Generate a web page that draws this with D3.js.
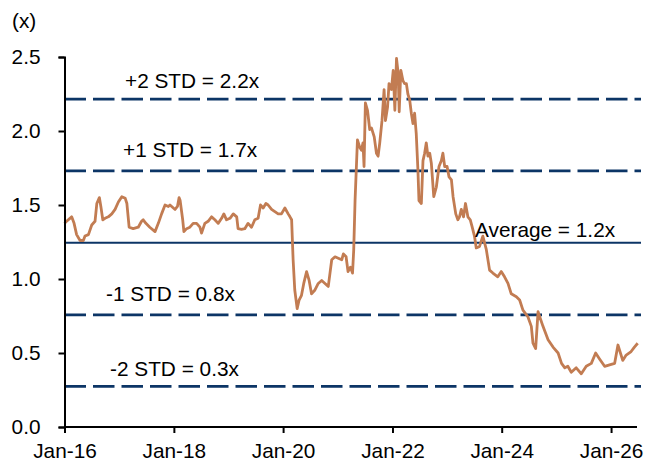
<!DOCTYPE html>
<html>
<head>
<meta charset="utf-8">
<script src="https://cdn.jsdelivr.net/npm/d3@7"></script>
<style>
  body { margin: 0; background: #fff; }
  text { font-family: Arial, "Liberation Sans", sans-serif; }
</style>
</head>
<body>
<div id="chart"></div>
<script>
// P/B multiple (x)
const dates = [
  "2016-01-01","2016-01-15","2016-02-18","2016-03-05","2016-03-22","2016-04-14","2016-05-06","2016-05-17",
  "2016-06-09","2016-07-01","2016-07-23","2016-08-04","2016-08-21","2016-08-31","2016-09-13","2016-09-28",
  "2016-10-20","2016-11-12","2016-12-04","2016-12-26","2017-01-18","2017-02-10","2017-02-21","2017-03-08",
  "2017-04-04","2017-05-08","2017-05-30","2017-06-10","2017-06-28","2017-07-24","2017-08-28","2017-09-19",
  "2017-10-11","2017-11-03","2017-11-25","2017-12-06","2018-01-09","2018-01-25","2018-02-05","2018-02-12",
  "2018-03-01","2018-03-09","2018-03-27","2018-04-18","2018-05-10","2018-06-02","2018-06-24","2018-07-05",
  "2018-07-27","2018-08-18","2018-09-10","2018-10-02","2018-10-24","2018-11-16","2018-12-01","2018-12-19",
  "2019-01-11","2019-02-02","2019-02-25","2019-03-06","2019-03-29","2019-04-20","2019-05-12","2019-06-04",
  "2019-06-26","2019-07-18","2019-08-03","2019-08-21","2019-09-08","2019-09-23","2019-10-16","2019-11-07",
  "2019-11-29","2019-12-21","2020-01-13","2020-02-04","2020-02-16","2020-02-27","2020-03-08","2020-03-19",
  "2020-04-04","2020-04-17","2020-05-03","2020-05-18","2020-06-06","2020-06-23","2020-07-09","2020-08-01",
  "2020-08-23","2020-09-15","2020-10-07","2020-10-29","2020-11-21","2020-12-13","2021-01-04","2021-01-27",
  "2021-02-07","2021-02-25","2021-03-10","2021-03-26","2021-04-09","2021-04-17","2021-04-26","2021-05-12",
  "2021-05-27","2021-06-08","2021-06-18","2021-06-25","2021-07-04","2021-07-18","2021-08-02","2021-08-14",
  "2021-09-01","2021-09-16","2021-09-27","2021-10-08","2021-10-23","2021-11-06","2021-11-15","2021-11-29",
  "2021-12-09","2021-12-25","2022-01-06","2022-01-17","2022-01-28","2022-02-08","2022-02-15","2022-02-26",
  "2022-03-12","2022-03-23","2022-04-04","2022-04-14","2022-04-26","2022-05-07","2022-05-18","2022-05-29",
  "2022-06-09","2022-06-20","2022-06-27","2022-07-13","2022-07-24","2022-08-04","2022-08-15","2022-08-26",
  "2022-09-07","2022-09-18","2022-10-04","2022-10-21","2022-11-08","2022-11-24","2022-12-04","2022-12-16",
  "2023-01-01","2023-01-14","2023-01-30","2023-02-10","2023-02-28","2023-03-14","2023-03-25","2023-04-06",
  "2023-04-21","2023-05-04","2023-05-20","2023-06-05","2023-06-18","2023-07-03","2023-07-15","2023-08-06",
  "2023-08-28","2023-09-20","2023-10-12","2023-11-03","2023-12-06","2023-12-29","2024-01-20","2024-02-12",
  "2024-03-05","2024-04-08","2024-04-30","2024-05-22","2024-06-24","2024-07-17","2024-07-28","2024-08-15",
  "2024-08-31","2024-09-11","2024-10-03","2024-11-06","2024-12-09","2025-01-12","2025-02-04","2025-02-26",
  "2025-03-18","2025-04-10","2025-05-13","2025-06-16","2025-07-19","2025-08-22","2025-09-20","2025-10-16",
  "2025-11-19","2025-12-22","2026-01-25","2026-02-16","2026-03-20","2026-04-12","2026-05-15","2026-06-06",
  "2026-06-28"
];
const values = [
  1.376,1.39,1.42,1.376,1.30,1.26,1.26,1.29,
  1.30,1.365,1.39,1.51,1.55,1.49,1.40,1.41,
  1.42,1.44,1.47,1.52,1.556,1.545,1.51,1.35,
  1.34,1.35,1.39,1.40,1.376,1.35,1.32,1.376,
  1.44,1.50,1.49,1.50,1.47,1.49,1.55,1.53,
  1.40,1.32,1.34,1.35,1.376,1.376,1.35,1.31,
  1.376,1.39,1.42,1.40,1.376,1.41,1.44,1.40,
  1.41,1.44,1.42,1.34,1.335,1.34,1.376,1.35,
  1.40,1.41,1.50,1.48,1.51,1.50,1.47,1.455,
  1.44,1.44,1.48,1.44,1.42,1.40,1.13,0.926,
  0.80,0.858,0.89,0.97,1.05,0.99,0.90,0.926,
  0.97,0.99,0.97,0.95,1.13,1.15,1.14,1.13,
  1.17,1.15,1.05,1.08,1.04,1.196,1.53,1.94,
  1.89,1.87,1.92,1.76,2.19,2.14,2.01,2.02,
  1.96,1.85,1.83,1.92,2.07,2.28,2.07,2.16,
  2.32,2.28,2.41,2.14,2.49,2.39,2.13,2.41,
  2.34,2.32,2.32,2.25,2.21,2.12,2.05,2.12,
  1.98,1.74,1.53,1.51,1.80,1.85,1.92,1.83,
  1.85,1.78,1.556,1.62,1.76,1.80,1.85,1.76,
  1.76,1.69,1.67,1.556,1.44,1.40,1.42,1.47,
  1.42,1.51,1.42,1.40,1.35,1.29,1.21,1.22,
  1.29,1.20,1.06,1.04,1.015,1.05,1.015,0.97,
  0.90,0.88,0.858,0.79,0.745,0.68,0.566,0.53,
  0.78,0.745,0.68,0.59,0.54,0.50,0.43,0.40,
  0.41,0.37,0.40,0.36,0.41,0.43,0.50,0.46,
  0.41,0.42,0.43,0.554,0.45,0.486,0.51,0.54,
  0.566
];

// reference lines: mean and +/- standard deviations
const refNames  = ["+2 STD = 2.2x", "+1 STD = 1.7x", "Average = 1.2x", "-1 STD = 0.8x", "-2 STD = 0.3x"];
const refValues = [2.215, 1.73, 1.245, 0.757, 0.275];
const refSolid  = [false, false, true, false, false];

const yTicks = [0, 0.5, 1.0, 1.5, 2.0, 2.5];
const xTickDates = ["2016-01-01","2018-01-01","2020-01-01","2022-01-01","2024-01-01","2026-01-01"];

const parse = d3.timeParse("%Y-%m-%d");
const data = dates.map((d, i) => ({ date: parse(d), value: values[i] }));

const width = 646, height = 464;
const svg = d3.select("#chart").append("svg")
  .attr("width", width)
  .attr("height", height);

const x = d3.scaleTime()
  .domain([parse("2016-01-01"), parse("2026-06-30")])
  .range([64.5, 638]);

const y = d3.scaleLinear()
  .domain([0, 2.5])
  .range([427, 57]);

// reference lines
svg.selectAll("line.ref")
  .data(refValues)
  .enter().append("line")
    .attr("class", "ref")
    .attr("x1", x.range()[0])
    .attr("x2", 641)
    .attr("y1", d => y(d))
    .attr("y2", d => y(d))
    .attr("stroke", "#0c3566")
    .attr("stroke-width", (d, i) => refSolid[i] ? 2 : 2.8)
    .attr("stroke-dasharray", (d, i) => refSolid[i] ? null : "21.5,7");

// the series
svg.append("path")
  .datum(data)
  .attr("fill", "none")
  .attr("stroke", "#c27c52")
  .attr("stroke-width", 2.8)
  .attr("stroke-linejoin", "round")
  .attr("d", d3.line()
    .x(d => x(d.date))
    .y(d => y(d.value)));

// labels of the reference lines
const labelX = [125, 123, 475, 106, 110];
const labelY = [88, 157, 237, 301, 376];
svg.selectAll("text.ref")
  .data(refNames)
  .enter().append("text")
    .attr("class", "ref")
    .attr("x", (d, i) => labelX[i])
    .attr("y", (d, i) => labelY[i])
    .attr("font-size", 20.8)
    .attr("fill", "#000")
    .text(d => d);

// axes
const yAxis = svg.append("g")
  .attr("transform", `translate(${x.range()[0]},0)`)
  .call(d3.axisLeft(y).tickValues(yTicks).tickFormat(d3.format(".1f")).tickSize(6).tickPadding(18));

const xAxis = svg.append("g")
  .attr("transform", `translate(0,${y(0)})`)
  .call(d3.axisBottom(x).tickValues(xTickDates.map(parse)).tickFormat(d3.timeFormat("%b-%y")).tickSize(6).tickPadding(10));

[yAxis, xAxis].forEach(g => {
  g.select(".domain").attr("stroke", "#000").attr("stroke-width", 2);
  g.selectAll(".tick line").attr("stroke", "#000").attr("stroke-width", 2);
  g.selectAll(".tick text")
    .attr("fill", "#000")
    .attr("font-size", 20.8)
    .attr("font-family", "Arial, 'Liberation Sans', sans-serif");
});
xAxis.select(".domain").attr("d", `M${x.range()[0]},0H637`);

// unit label
svg.append("text")
  .attr("x", 12)
  .attr("y", 28)
  .attr("font-size", 20.8)
  .attr("fill", "#000")
  .text("(x)");
</script>
</body>
</html>
